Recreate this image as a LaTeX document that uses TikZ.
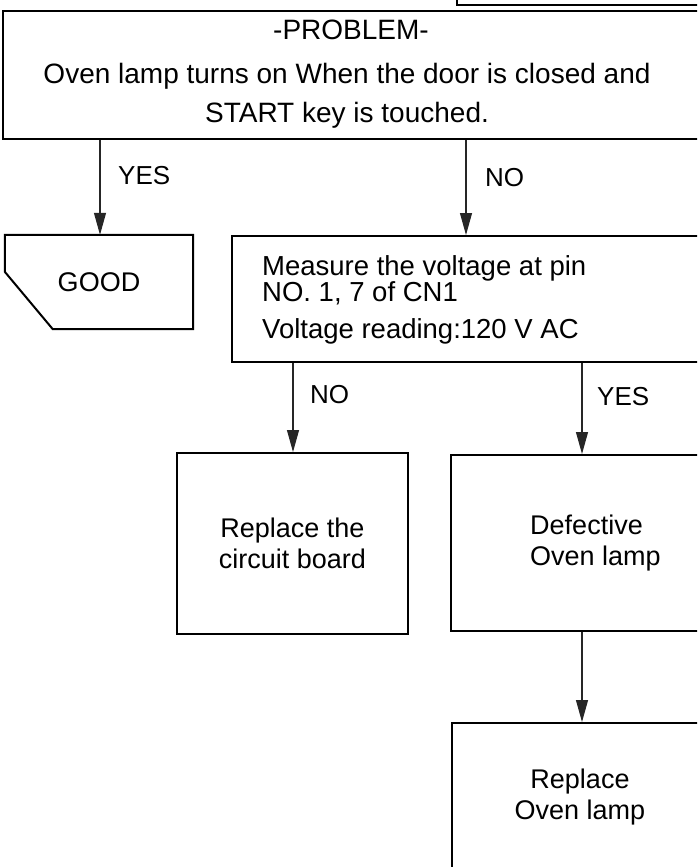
\documentclass[tikz,border=0pt]{standalone}
\usepackage{fontspec}
\setmainfont{Liberation Sans}
\usetikzlibrary{arrows.meta,calc}
\begin{document}
\begin{tikzpicture}[x=1pt,y=-1pt,
  box/.style={draw=black, line width=2pt, rectangle, inner sep=0pt},
  conn/.style={line width=1.1pt, draw=black!85, -{Triangle[length=22pt,width=12pt]}},
  lbl/.style={font=\fontsize{26}{30}\selectfont, anchor=west, inner sep=0pt},
  txt/.style={font=\fontsize{27}{31}\selectfont, inner sep=0pt},
  mtxt/.style={font=\fontsize{27.5}{31}\selectfont, inner sep=0pt, anchor=base west},
  ptxt/.style={font=\fontsize{28}{32}\selectfont, inner sep=0pt, anchor=base}]
\useasboundingbox (0,0) rectangle (697,867);
\clip (0,0) rectangle (697,867);
\fill[white] (0,0) rectangle (697,867);

% boxes
\node[box, minimum width=303pt, minimum height=65pt] (prev) at (608.5,-27.5) {};
\node[box, minimum width=697pt, minimum height=128pt] (problem) at (351.5,75) {};
\node[inner sep=0pt, minimum width=188pt, minimum height=94pt, txt] (good) at (99,282) {GOOD};
\draw[line width=2pt, line join=miter] (good.north west) -- (good.north east) -- (good.south east)
  -- ($(good.south west)+(48,0)$) -- ($(good.north west)+(0,37)$) -- cycle;
\node[box, minimum width=528pt, minimum height=126pt] (measure) at (496,299) {};
\node[box, txt, align=center, minimum width=231pt, minimum height=181pt] (circuit) at (292.5,543.5) {Replace the\\circuit board};
\node[box, txt, align=left, minimum width=289pt, minimum height=176pt] (defective) at (595.5,543) {Defective\\Oven lamp};
\node[box, minimum width=288pt, minimum height=177pt] (replace) at (596,811.5) {};

% texts
\node[ptxt] (t1) at (351,40) {-PROBLEM-};
\node[ptxt] (t2) at (347,83) {Oven lamp turns on When the door is closed and};
\node[ptxt] (t3) at (347,122) {START key is touched.};
\node[mtxt] (m1) at (262,275) {Measure the voltage at pin};
\node[mtxt] (m2) at (262,301) {NO. 1, 7 of CN1};
\node[mtxt] (m3) at (262,338) {Voltage reading:120 V AC};
\node[txt, align=center] (rt) at (580,797) {Replace\\Oven lamp};

% connectors
\coordinate (cx1) at (100,0);
\coordinate (cx2) at (466,0);
\coordinate (cx3) at (293,0);
\coordinate (cx4) at (582,0);
\draw[conn] (problem.south -| cx1) -- (good.north -| cx1);
\draw[conn] (problem.south -| cx2) -- (measure.north -| cx2);
\draw[conn] (measure.south -| cx3) -- (circuit.north -| cx3);
\draw[conn] (measure.south -| cx4) -- (defective.north -| cx4);
\draw[conn] (defective.south -| cx4) -- (replace.north -| cx4);

% labels
\node[lbl] (l1) at (118,176) {YES};
\node[lbl] (l2) at (485,178) {NO};
\node[lbl] (l3) at (310,395) {NO};
\node[lbl] (l4) at (597,397) {YES};
\end{tikzpicture}
\end{document}
